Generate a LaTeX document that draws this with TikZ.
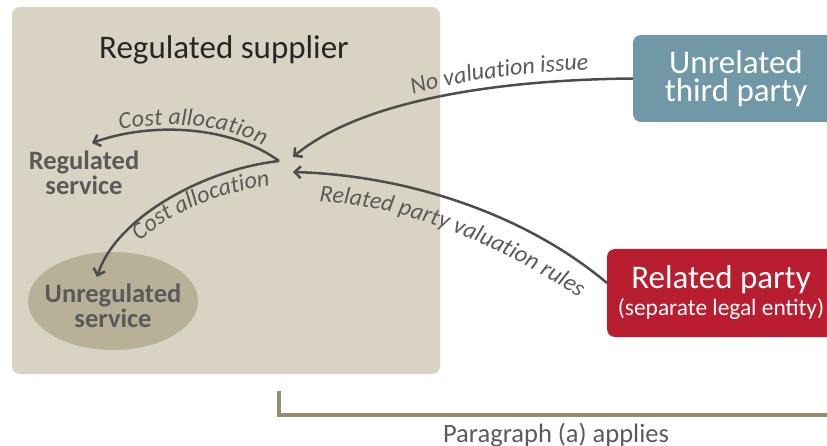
\documentclass[tikz,border=0pt]{standalone}
\usepackage{fontspec}
\setmainfont{Carlito}
\usetikzlibrary{arrows.meta,decorations.text,shapes.geometric}
\definecolor{boxbg}{HTML}{D9D3C3}
\definecolor{ellbg}{HTML}{B8B197}
\definecolor{unrelc}{HTML}{7098A6}
\definecolor{relc}{HTML}{B81E2F}
\definecolor{arrowc}{HTML}{4D4D4D}
\definecolor{labelc}{HTML}{5A5A5A}
\definecolor{bracketc}{HTML}{958C6E}
\definecolor{titlec}{HTML}{262626}
\newcommand\lblfnt{\fontsize{24}{28}\selectfont\itshape}
\begin{document}
\begin{tikzpicture}[x=1pt,y=-1pt,
  flow/.style={draw=arrowc, line width=2.5pt, -{Straight Barb[length=6pt,width=12pt]}},
  partybox/.style={rounded corners=8pt, inner sep=0pt, text=white, align=center},
  svc/.style={font=\fontsize{26.5}{25}\selectfont\bfseries, text=labelc, align=center, inner sep=0pt},
  lbl/.style n args={3}{decorate, decoration={text along path, text color=labelc,
      text={|\lblfnt|#1}, text align={left indent=#2}, raise=#3}}
]
\clip (0,0) rectangle (827,446);
% regulated supplier box
\node[fill=boxbg, rounded corners=8pt, minimum width=428pt, minimum height=367pt, inner sep=0pt] (sup) at (226,190.5) {};
\node[anchor=base, font=\fontsize{33}{36}\selectfont, text=titlec] (suptitle) at (224,59) {Regulated supplier};
\node[svc] (regsvc) at (84,173) {Regulated\\service};
\node[ellipse, fill=ellbg, minimum width=170pt, minimum height=98pt, inner sep=0pt] (unregell) at (113,301) {};
\node[svc] (unregsvc) at (113,305.5) {Unregulated\\service};
% parties
\node[partybox, fill=unrelc, minimum width=206pt, minimum height=87pt, font=\fontsize{33}{28}\selectfont] (unrel) at (736,78.5) {Unrelated\\third party};
\node[partybox, fill=relc, minimum width=228pt, minimum height=88pt, font=\fontsize{33}{27}\selectfont] (rel) at (721,293) {Related party\\{\fontsize{23.4}{27}\selectfont(separate legal entity)}};
% bracket
\coordinate (brtop) at (279,391);
\coordinate (brend) at (832,415);
\draw[bracketc, line width=3.5pt] (brtop) |- (brend);
\node[anchor=base, font=\fontsize{26.5}{30}\selectfont, text=labelc] (para) at (556,442) {Paragraph (a) applies};
% hub points
\coordinate (hubA) at (293,157);
\coordinate (hubB) at (293,172);
\coordinate (hubS) at (279,161);
\coordinate (regtip) at (92,143);
\coordinate (unregtip) at (97,277);
\coordinate (relstart) at (607,283);
% arrows
\draw[flow] (unrel.west) .. controls (480,80) and (355,105) .. (hubA);
\draw[flow] (relstart) .. controls (520,210) and (400,175) .. (hubB);
\draw[flow] (hubS) .. controls (230,125) and (150,122) .. (regtip);
\draw[flow] (hubS) .. controls (200,170) and (115,220) .. (unregtip);
% baselines of the labels
\coordinate (nvA) at (410,96);
\coordinate (nvB) at (600,69);
\coordinate (rpA) at (317,201);
\coordinate (rpB) at (594,308);
\coordinate (caA) at (138,244);
\coordinate (caB) at (280,185);
% labels along arrows
\path[lbl={No valuation issue}{3pt}{0pt}] (nvA) .. controls (450,82) and (520,72) .. (nvB);
\path[lbl={Related party valuation rules}{2pt}{0pt}] (rpA) .. controls (420,208) and (510,250) .. (rpB);
\path[lbl={Cost allocation}{30pt}{5pt}] (regtip) .. controls (150,122) and (230,125) .. (hubS);
\path[lbl={Cost allocation}{3pt}{0pt}] (caA) .. controls (165,215) and (220,190) .. (caB);
\end{tikzpicture}
\end{document}
